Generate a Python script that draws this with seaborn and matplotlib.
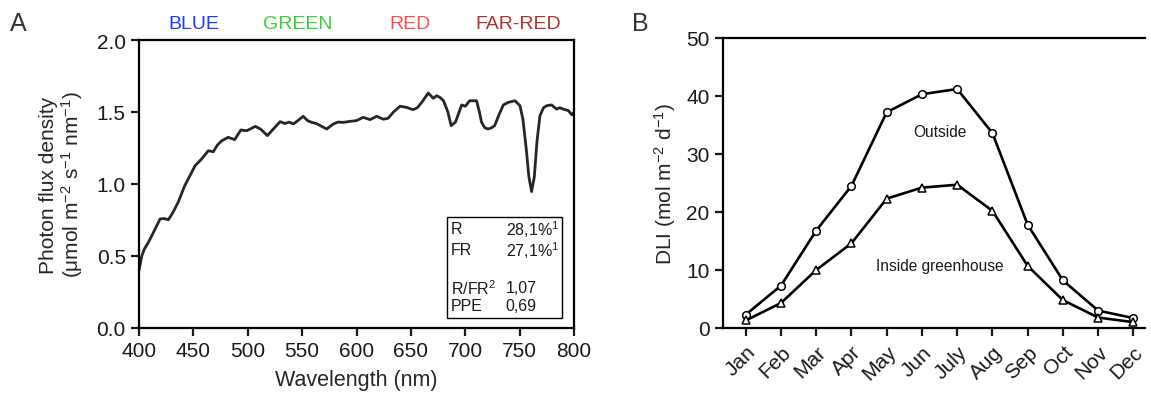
import numpy as np
import pandas as pd
import matplotlib
matplotlib.use("Agg")
import matplotlib.pyplot as plt
import seaborn as sns

# ---------------- data ----------------
wavelength = [400, 402.5, 405, 408.6, 413, 419.3, 423, 427, 431, 436, 442, 447, 451.5, 457.6,
              463.7, 468.3, 472, 476, 482, 488, 493.6, 499, 507, 512, 518, 523.5, 529.7, 534,
              538, 542, 546, 551, 555, 558.8, 563, 568, 572.6, 578.7, 583, 588, 594, 600, 606,
              612.4, 618.6, 624.7, 629, 634, 640, 646, 652, 656, 660, 666, 670.6, 673.7, 677,
              680, 684, 687, 691, 696.7, 700, 704, 710.4, 713, 715, 718, 721, 724, 727, 731,
              735, 739.6, 745.7, 750.3, 753, 756, 758.5, 761, 763.5, 766, 768.7, 772, 775,
              779.5, 784, 787, 790, 794.8, 798, 800]
photon_flux = [0.40, 0.50, 0.55, 0.595, 0.66, 0.757, 0.76, 0.752, 0.80, 0.873, 0.988, 1.06,
               1.127, 1.174, 1.231, 1.224, 1.27, 1.30, 1.324, 1.308, 1.375, 1.37, 1.40, 1.38,
               1.336, 1.382, 1.433, 1.42, 1.43, 1.417, 1.44, 1.47, 1.44, 1.428, 1.42, 1.40,
               1.382, 1.417, 1.43, 1.428, 1.435, 1.44, 1.463, 1.447, 1.47, 1.45, 1.456, 1.50,
               1.54, 1.532, 1.516, 1.53, 1.567, 1.632, 1.595, 1.613, 1.60, 1.578, 1.50, 1.405,
               1.43, 1.549, 1.54, 1.578, 1.578, 1.50, 1.428, 1.39, 1.382, 1.39, 1.405, 1.48,
               1.549, 1.567, 1.578, 1.544, 1.45, 1.25, 1.05, 0.947, 1.05, 1.30, 1.475, 1.53,
               1.544, 1.549, 1.52, 1.53, 1.52, 1.51, 1.48, 1.50]

band_names = ["BLUE", "GREEN", "RED", "FAR-RED"]
band_centers = [450, 546, 649, 748.5]
band_colors = ["#1a3cff", "#3ccf3c", "#ff4d4d", "#b5302f"]

inset_labels = ["R", "FR", "R/FR$^2$", "PPE"]
inset_values = ["28,1%$^1$", "27,1%$^1$", "1,07", "0,69"]

months = ["Jan", "Feb", "Mar", "Apr", "May", "Jun", "July", "Aug", "Sep", "Oct", "Nov", "Dec"]
dli_outside = [2.3, 7.3, 16.8, 24.5, 37.2, 40.3, 41.2, 33.6, 17.8, 8.2, 3.0, 1.7]
dli_inside = [1.3, 4.3, 10.0, 14.6, 22.3, 24.2, 24.7, 20.2, 10.7, 4.8, 1.8, 1.0]

# ---------------- style ----------------
sns.set_style("ticks")
plt.rcParams["font.family"] = ["Liberation Sans", "DejaVu Sans"]
plt.rcParams["mathtext.fontset"] = "custom"
plt.rcParams["mathtext.rm"] = "Liberation Sans"
plt.rcParams["mathtext.it"] = "Liberation Sans:italic"
plt.rcParams["mathtext.bf"] = "Liberation Sans:bold"
plt.rcParams["axes.linewidth"] = 1.6
plt.rcParams["xtick.major.width"] = 1.6
plt.rcParams["ytick.major.width"] = 1.6
plt.rcParams["xtick.major.size"] = 6
plt.rcParams["ytick.major.size"] = 6
plt.rcParams["xtick.labelsize"] = 15
plt.rcParams["ytick.labelsize"] = 15
plt.rcParams["text.color"] = "#1a1a1a"
plt.rcParams["xtick.color"] = "#1a1a1a"
plt.rcParams["ytick.color"] = "#1a1a1a"
plt.rcParams["axes.edgecolor"] = "black"

fig = plt.figure(figsize=(11.51, 4.06), dpi=100)
axA = fig.add_axes([0.1208, 0.1897, 0.3779, 0.7093])
axB = fig.add_axes([0.628, 0.1897, 0.3668, 0.7143])

# ---------------- panel A ----------------
dfA = pd.DataFrame({"wl": wavelength, "pfd": photon_flux})
sns.lineplot(data=dfA, x="wl", y="pfd", ax=axA, color="#262626", linewidth=2.0, sort=True)
axA.set_xlim(400, 800)
axA.set_ylim(0, 2.0)
axA.set_xticks(np.arange(400, 801, 50))
axA.set_yticks([0.0, 0.5, 1.0, 1.5, 2.0])
axA.set_yticklabels(["0.0", "0.5", "1.0", "1.5", "2.0"])
for s in axA.spines.values():
    s.set_linewidth(1.6)
axA.set_xlabel("Wavelength (nm)", fontsize=15.5, labelpad=6)
axA.set_ylabel("Photon flux density\n(μmol m$^{-2}$ s$^{-1}$ nm$^{-1}$)", fontsize=15,
               linespacing=1.1, labelpad=8)
for name, cx, col in zip(band_names, band_centers, band_colors):
    axA.text(cx, 2.055, name, color=col, fontsize=14, ha="center", va="bottom",
             transform=axA.transData, clip_on=False)

# inset table box
box = plt.Rectangle((0.707, 0.035), 0.266, 0.351, transform=axA.transAxes,
                    fill=False, edgecolor="black", linewidth=1.0)
axA.add_patch(box)
ys = [0.344, 0.272, 0.139, 0.077]
for lab, val, yy in zip(inset_labels, inset_values, ys):
    axA.text(0.7167, yy, lab, transform=axA.transAxes, fontsize=11.5, va="center", ha="left")
    axA.text(0.843, yy, val, transform=axA.transAxes, fontsize=11.5, va="center", ha="left")

fig.text(0.009, 0.94, "A", fontsize=18, color="#333333", ha="left", va="center")

# ---------------- panel B ----------------
dfB = pd.DataFrame({"month": np.arange(len(months)), "outside": dli_outside, "inside": dli_inside})
sns.lineplot(data=dfB, x="month", y="outside", ax=axB, color="black", linewidth=1.9,
             marker="o", markersize=5.5, markerfacecolor="white", markeredgecolor="black",
             markeredgewidth=1.1)
sns.lineplot(data=dfB, x="month", y="inside", ax=axB, color="black", linewidth=1.9,
             marker="^", markersize=5.5, markerfacecolor="white", markeredgecolor="black",
             markeredgewidth=1.1)
axB.set_xlim(-0.65, 11.33)
axB.set_ylim(0, 50)
axB.set_yticks([0, 10, 20, 30, 40, 50])
axB.set_xticks(np.arange(len(months)))
axB.set_xticklabels(months, rotation=45, ha="right", rotation_mode="anchor", fontsize=15)
axB.tick_params(axis="x", pad=4)
axB.spines["right"].set_visible(False)
axB.spines["top"].set_visible(True)
axB.set_xlabel("")
axB.set_ylabel("DLI (mol m$^{-2}$ d$^{-1}$)", fontsize=15, labelpad=6)
axB.text(5.5, 33.8, "Outside", fontsize=11.2, ha="center", va="center")
axB.text(5.5, 10.7, "Inside greenhouse", fontsize=11.2, ha="center", va="center")

fig.text(0.549, 0.94, "B", fontsize=18, color="#333333", ha="left", va="center")

fig.savefig("out.png", dpi=100)
